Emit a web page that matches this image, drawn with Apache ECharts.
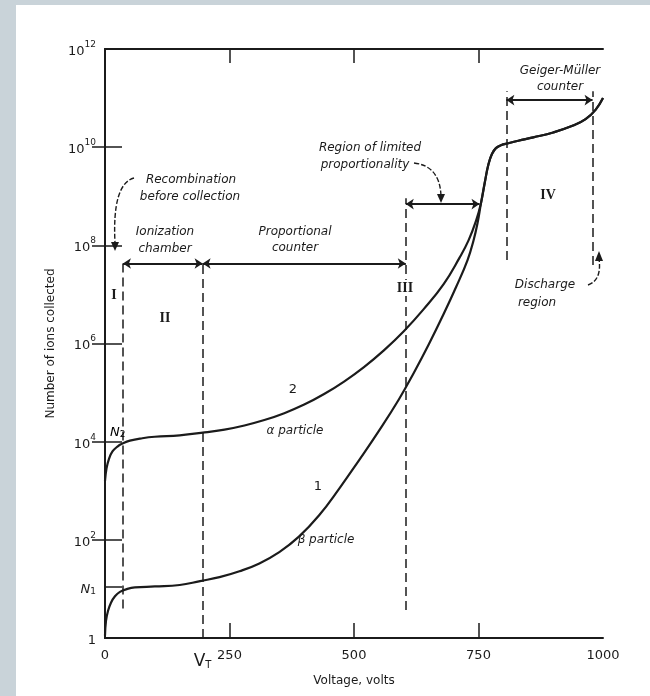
<!DOCTYPE html>
<html>
<head>
<meta charset="utf-8">
<script src="https://cdn.jsdelivr.net/npm/echarts@6/dist/echarts.min.js"></script>
<style>
html, body { margin: 0; padding: 0; background: #c9d3d9; }
#paper { position: absolute; left: 16px; top: 5px; width: 634px; height: 691px; background: #fff; }
#main { position: absolute; left: 0; top: 0; width: 650px; height: 696px; }
</style>
</head>
<body>
<div id="paper"></div>
<div id="main"></div>
<script>
// voltage (volts) and log10(number of ions collected)
var alphaV = [0, 3, 8, 15, 25, 35, 50, 75, 100, 150, 200, 240, 280, 320, 360, 400, 440, 480, 520, 560,
  600, 640, 680, 712, 730, 745, 755, 763, 770, 777, 785, 795, 810, 830, 860, 900, 940, 965, 985, 1000];
var alphaLogN = [3.2, 3.45, 3.65, 3.8, 3.9, 3.96, 4.02, 4.07, 4.1, 4.13, 4.19, 4.245, 4.33, 4.44, 4.58, 4.755, 4.97, 5.225, 5.52, 5.86,
  6.25, 6.7, 7.21, 7.75, 8.1, 8.5, 8.86, 9.3, 9.65, 9.86, 9.98, 10.04, 10.08, 10.13, 10.2, 10.3, 10.44, 10.57, 10.76, 11.0];

var betaV = [0, 2, 6, 12, 20, 30, 45, 60, 100, 150, 191, 230, 270, 310, 350, 390, 430, 470, 510, 550,
  590, 620, 650, 680, 705, 728, 740, 748, 755, 763, 770, 777, 785, 795, 810, 830, 860, 900, 940, 965, 985, 1000];
var betaLogN = [0.05, 0.35, 0.55, 0.72, 0.85, 0.94, 1.0, 1.03, 1.05, 1.08, 1.16, 1.24, 1.36, 1.52, 1.75, 2.07, 2.5, 3.04, 3.62, 4.22,
  4.86, 5.4, 5.98, 6.6, 7.15, 7.7, 8.1, 8.45, 8.86, 9.3, 9.65, 9.86, 9.98, 10.04, 10.08, 10.13, 10.2, 10.3, 10.44, 10.57, 10.76, 11.0];

var VT = 196;                 // threshold voltage
var N1Log = 1.04;             // log10 N1
var xTicks = [250, 500, 750];
var xLabels = [0, VT, 250, 500, 750, 1000];
var yTickExp = [0, 2, 4, 6, 8, 10, 12];

// region boundaries: [voltage, log10 bottom, log10 top]
var dashLines = [[36, 0.6, 7.63], [VT, 0, 7.63], [604, 0.57, 8.96], [806, 7.7, 11.14], [979, 7.6, 11.14]];
// double arrows: [from V, to V, log10 level]
var spanArrows = [[36, VT, 7.63], [VT, 604, 7.63], [604, 752, 8.84], [806, 979, 10.96]];

var ink = '#1b1b1b';
var font = 'DejaVu Sans';

function pw(e) { return Math.pow(10, e); }
function pairs(xs, es) { return xs.map(function (x, i) { return [x, pw(es[i])]; }); }

var richNum = {
  b: { fontSize: 13, lineHeight: 18, verticalAlign: 'bottom', color: ink, fontFamily: font },
  sup: { fontSize: 9, lineHeight: 9, verticalAlign: 'top', color: ink, fontFamily: font },
  n: { fontSize: 13, lineHeight: 18, verticalAlign: 'bottom', fontStyle: 'italic', color: ink, fontFamily: font },
  sub: { fontSize: 9, lineHeight: 10, verticalAlign: 'bottom', color: ink, fontFamily: font },
  v: { fontSize: 17, lineHeight: 26, verticalAlign: 'bottom', color: ink, fontFamily: font },
  vsub: { fontSize: 10, lineHeight: 12, verticalAlign: 'bottom', color: ink, fontFamily: font }
};

var myChart = echarts.init(document.getElementById('main'));

var options = {
  animation: false,
  grid: { left: 105, right: 47, top: 49, bottom: 58 },
  xAxis: [
    {
      type: 'value', min: 0, max: 1000, position: 'bottom',
      axisLine: { lineStyle: { color: ink, width: 2 } },
      axisTick: { inside: true, length: 15, customValues: xTicks, lineStyle: { color: ink, width: 1.5 } },
      axisLabel: {
        customValues: xLabels, margin: 6, rich: richNum,
        formatter: function (v) {
          if (v === VT) return '{v|V}{vsub|T}';
          return '{b|' + v + '}';
        }
      },
      splitLine: { show: false },
      name: 'Voltage, volts', nameLocation: 'middle', nameGap: 30,
      nameTextStyle: { color: ink, fontSize: 12, fontFamily: font }
    },
    {
      type: 'value', min: 0, max: 1000, position: 'top',
      axisLine: { lineStyle: { color: ink, width: 2 } },
      axisTick: { inside: true, length: 14, customValues: xTicks, lineStyle: { color: ink, width: 1.5 } },
      axisLabel: { show: false },
      splitLine: { show: false }
    }
  ],
  yAxis: [
    {
      type: 'log', logBase: 10, min: 1, max: 1e12,
      axisLine: { lineStyle: { color: ink, width: 2 } },
      axisTick: {
        inside: true, length: 17, lineStyle: { color: ink, width: 1.5 },
        customValues: yTickExp.map(pw).concat([pw(N1Log)])
      },
      axisLabel: {
        customValues: yTickExp.map(pw).concat([pw(N1Log)]), margin: 9, rich: richNum,
        formatter: function (v) {
          var e = Math.log10(v);
          if (Math.abs(e - N1Log) < 0.01) return '{n|N}{sub|1}';
          e = Math.round(e);
          if (e === 0) return '{b|1}';
          return '{b|10}{sup|' + e + '}';
        }
      },
      splitLine: { show: false },
      name: 'Number of ions collected', nameLocation: 'middle', nameGap: 43, nameRotate: 90,
      nameTextStyle: { color: ink, fontSize: 12, fontFamily: font }
    },
    {
      type: 'log', logBase: 10, min: 1, max: 1e12, position: 'right',
      axisLine: { lineStyle: { color: ink, width: 2 } },
      axisTick: { inside: true, length: 13, customValues: [2, 4, 6, 8, 10].map(pw), lineStyle: { color: ink, width: 1.5 } },
      axisLabel: { show: false },
      splitLine: { show: false }
    }
  ],
  series: [
    {
      name: 'alpha', type: 'line', smooth: 0.45, symbol: 'none',
      lineStyle: { color: ink, width: 2.2 },
      data: pairs(alphaV, alphaLogN),
      markLine: {
        silent: true, symbol: ['none', 'none'], label: { show: false },
        lineStyle: { color: ink, width: 1.5, type: [9, 5] },
        data: dashLines.map(function (d) {
          return [{ coord: [d[0], pw(d[1])] }, { coord: [d[0], pw(d[2])] }];
        })
      }
    },
    {
      name: 'beta', type: 'line', smooth: 0.45, symbol: 'none',
      lineStyle: { color: ink, width: 2.2 },
      data: pairs(betaV, betaLogN),
      markLine: {
        silent: true, symbol: ['arrow', 'arrow'], symbolSize: 8, label: { show: false },
        lineStyle: { color: ink, width: 1.8, type: 'solid' },
        data: spanArrows.map(function (d) {
          return [{ coord: [d[0], pw(d[2])] }, { coord: [d[1], pw(d[2])] }];
        })
      }
    }
  ],
  graphic: []
};

function txt(x, y, s, f, align) {
  return {
    type: 'text', x: x, y: y, silent: true, z: 10,
    style: { text: s, font: f || ('italic 12px ' + font), fill: ink, textAlign: align || 'center', textVerticalAlign: 'middle' }
  };
}
function roman(x, y, s) {
  return {
    type: 'text', x: x, y: y, silent: true, z: 10,
    style: {
      text: s, font: 'bold 14px "Liberation Serif"', fill: ink, textAlign: 'center', textVerticalAlign: 'middle',
      backgroundColor: '#fff', padding: [1, 1]
    }
  };
}
function curve(p) {
  return {
    type: 'bezierCurve', silent: true, z: 10,
    shape: { x1: p[0], y1: p[1], cpx1: p[2], cpy1: p[3], x2: p[4], y2: p[5] },
    style: { stroke: ink, lineWidth: 1.4, fill: null, lineDash: [5, 2] }
  };
}
function head(pts) {
  return { type: 'polygon', silent: true, z: 10, shape: { points: pts }, style: { fill: ink } };
}

var it = 'italic 12px ' + font;
options.graphic = [
  txt(191, 180, 'Recombination', it), txt(190, 197, 'before collection', it),
  txt(165, 232, 'Ionization', it), txt(165, 249, 'chamber', it),
  txt(295, 232, 'Proportional', it), txt(295, 248, 'counter', it),
  txt(370, 148, 'Region of limited', it), txt(365, 165, 'proportionality', it),
  txt(560, 71, 'Geiger-M\u00fcller', it), txt(560, 87, 'counter', it),
  txt(545, 285, 'Discharge', it), txt(537, 303, 'region', it),
  txt(293, 390, '2', '13px ' + font), txt(295, 431, '\u03b1 particle', it),
  txt(318, 487, '1', '13px ' + font), txt(326, 540, '\u03b2 particle', it),
  {
    type: 'text', x: 110, y: 430, silent: true, z: 10,
    style: { text: '{n|N}{sub|2}', rich: richNum, textAlign: 'left', textVerticalAlign: 'middle' }
  },
  roman(114, 295, 'I'), roman(165, 318, 'II'), roman(405, 288, 'III'), roman(548, 195, 'IV'),
  curve([134, 178, 112, 184, 115, 243]), head([[111, 242], [119, 242], [115, 251]]),
  curve([414, 163, 440, 166, 441, 196]), head([[437, 194], [445, 194], [441, 203]]),
  curve([588, 285, 602, 280, 599, 259]), head([[595, 261], [603, 261], [599, 251]])
];

myChart.setOption(options);
</script>
</body>
</html>
